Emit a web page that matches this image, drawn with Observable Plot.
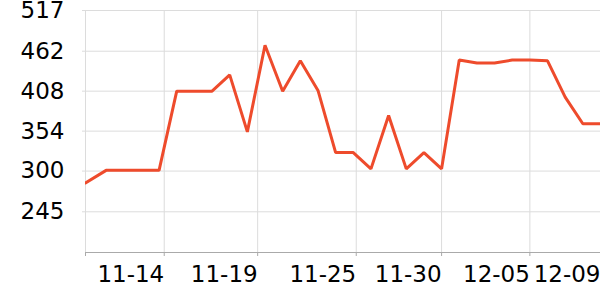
<!DOCTYPE html>
<html>
<head>
<meta charset="utf-8">
<script src="https://cdn.jsdelivr.net/npm/d3@7"></script>
<script src="https://cdn.jsdelivr.net/npm/@observablehq/plot@0.6"></script>
<style>
  html, body { margin: 0; padding: 0; background: #fff; }
</style>
</head>
<body>
<div id="chart"></div>
<script>
const dates = [
  "2023-11-09T20:00Z","2023-11-11T00:00Z","2023-11-12T00:00Z","2023-11-13T00:00Z","2023-11-14T00:00Z",
  "2023-11-15T00:00Z","2023-11-16T00:00Z","2023-11-17T00:00Z","2023-11-18T00:00Z","2023-11-19T00:00Z",
  "2023-11-20T00:00Z","2023-11-21T00:00Z","2023-11-22T00:00Z","2023-11-23T00:00Z","2023-11-24T00:00Z",
  "2023-11-25T00:00Z","2023-11-26T00:00Z","2023-11-27T00:00Z","2023-11-28T00:00Z","2023-11-29T00:00Z",
  "2023-11-30T00:00Z","2023-12-01T00:00Z","2023-12-02T00:00Z","2023-12-03T00:00Z","2023-12-04T00:00Z",
  "2023-12-05T00:00Z","2023-12-06T00:00Z","2023-12-07T00:00Z","2023-12-08T00:00Z","2023-12-09T00:00Z"
];
const values = [
  284, 301, 301, 301, 301, 408, 408, 408, 430, 353,
  470, 408, 449, 409, 325, 325, 303, 375, 303, 325,
  303, 450, 446, 446, 450, 450, 449, 400, 364, 364
];
const xTickDates = ["2023-11-14T07:00Z","2023-11-19T14:00Z","2023-11-25T04:00Z","2023-11-30T00:00Z","2023-12-05T00:00Z","2023-12-09T00:00Z"];
const xTickLabels = ["11-14","11-19","11-25","11-30","12-05","12-09"];
const yTicks = [517, 462, 408, 354, 300, 245];
const yMin = 190, yMax = 517;

const data = dates.map((d, i) => ({date: new Date(d), value: values[i]}));
const start = data[0].date, end = data[data.length - 1].date;
const tickD = xTickDates.map(d => new Date(d));
const labelOf = new Map(tickD.map((d, i) => [+d, xTickLabels[i]]));
const allXTicks = [start, ...tickD];

const chart = Plot.plot({
  width: 600,
  height: 300,
  marginLeft: 85,
  marginRight: 0,
  marginTop: 10,
  marginBottom: 48,
  style: {fontFamily: "DejaVu Sans", fontSize: "23px", background: "#fff", color: "#000"},
  x: {type: "utc", domain: [start, end]},
  y: {domain: [yMin, yMax]},
  marks: [
    Plot.gridX(allXTicks, {stroke: "#dcdcdc", strokeOpacity: 1}),
    Plot.gridY(yTicks, {stroke: "#dcdcdc", strokeOpacity: 1, insetLeft: -3}),
    Plot.ruleY([yMin], {stroke: "#aaa"}),
    Plot.axisY({ticks: yTicks, label: null, tickSize: 0, tickPadding: 21, fontSize: 23, fontFamily: "DejaVu Sans", fill: "#000", tickFormat: d => String(d)}),
    Plot.axisX({ticks: allXTicks, label: null, tickSize: 4, stroke: "#aaa", tickPadding: 9, fontSize: 23, fontFamily: "DejaVu Sans", fill: "#000", textAnchor: "end",
      tickFormat: d => labelOf.get(+d) ?? ""}),
    Plot.line(data, {x: "date", y: "value", stroke: "#ee4b2c", strokeWidth: 3, strokeLinejoin: "miter", clip: true})
  ]
});
document.getElementById("chart").appendChild(chart);
</script>
</body>
</html>
